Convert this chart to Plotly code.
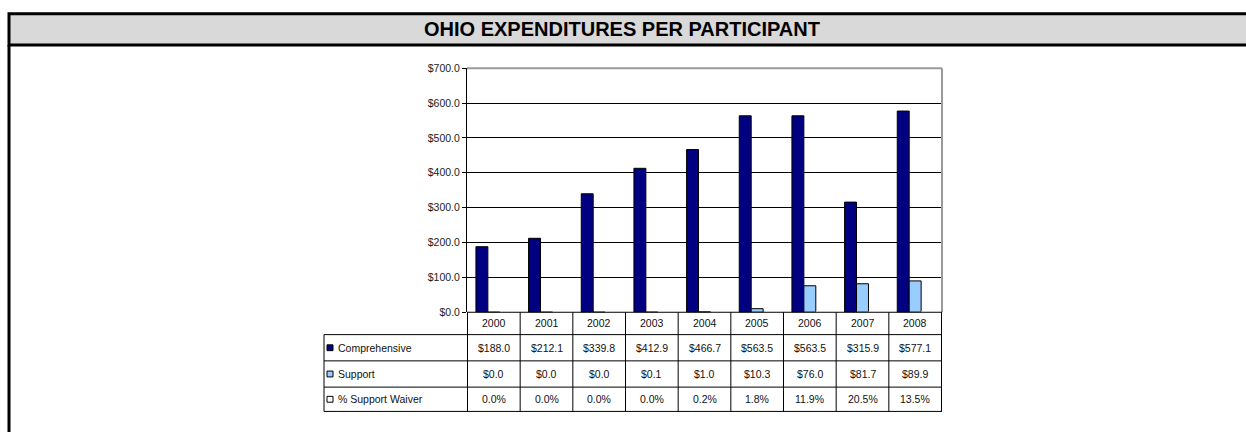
import plotly.graph_objects as go

# Fiscal years and per-participant spending (USD)
years = ["2000", "2001", "2002", "2003", "2004", "2005", "2006", "2007", "2008"]
comprehensive = [188.0, 212.1, 339.8, 412.9, 466.7, 563.5, 563.5, 315.9, 577.1]
support = [0.0, 0.0, 0.0, 0.1, 1.0, 10.3, 76.0, 81.7, 89.9]
pct_support_waiver = [0.0, 0.0, 0.0, 0.0, 0.2, 1.8, 11.9, 20.5, 13.5]

comp_labels = ["$188.0", "$212.1", "$339.8", "$412.9", "$466.7", "$563.5", "$563.5", "$315.9", "$577.1"]
support_labels = ["$0.0", "$0.0", "$0.0", "$0.1", "$1.0", "$10.3", "$76.0", "$81.7", "$89.9"]
pct_labels = ["0.0%", "0.0%", "0.0%", "0.0%", "0.2%", "1.8%", "11.9%", "20.5%", "13.5%"]

y_ticks = [0, 100, 200, 300, 400, 500, 600, 700]
y_tick_text = ["$0.0", "$100.0", "$200.0", "$300.0", "$400.0", "$500.0", "$600.0", "$700.0"]

W, H = 1246, 432
NAVY = "#000080"
LIGHT = "#99ccff"
FONT = "Liberation Sans, Arial, sans-serif"


def px(x):
    return x / W


def py(y):
    return 1 - y / H


fig = go.Figure()
fig.add_bar(x=years, y=comprehensive, name="Comprehensive",
            marker=dict(color=NAVY, line=dict(color="black", width=1)))
fig.add_bar(x=years, y=support, name="Support",
            marker=dict(color=LIGHT, line=dict(color="black", width=1)))
# waiver share is a ratio, so it sits at the floor of the dollar axis
fig.add_bar(x=years, y=[p / 100 for p in pct_support_waiver], name="% Support Waiver",
            marker=dict(color="white", line=dict(color="white", width=0)))

# plot-area box edges in pixels
LEFT, RIGHT, TOP, BASE = 467, 942, 64, 315
LEG_L = 324
ROW_Y = [315, 338, 365, 392, 417]

shapes = []
annotations = []

# page frame: title band and left rule
shapes.append(dict(type="rect", xref="paper", yref="paper", x0=px(9), x1=px(1252),
                   y0=py(40), y1=py(8), fillcolor="#d9d9d9", line=dict(color="black", width=3),
                   layer="below"))
shapes.append(dict(type="line", xref="paper", yref="paper", x0=px(9), x1=px(9),
                   y0=py(40), y1=py(440), line=dict(color="black", width=3)))
annotations.append(dict(text="<b>OHIO EXPENDITURES PER PARTICIPANT</b>", xref="paper", yref="paper",
                        x=px(622), y=py(24), showarrow=False, xanchor="center", yanchor="middle",
                        font=dict(family=FONT, size=20, color="black")))

# plot-area border on top and right
shapes.append(dict(type="line", xref="x domain", yref="y domain", x0=0, x1=1, y0=1, y1=1,
                   line=dict(color="#9a9a9a", width=2)))
shapes.append(dict(type="line", xref="x domain", yref="y domain", x0=1, x1=1, y0=0, y1=1,
                   line=dict(color="#9a9a9a", width=2)))

# data table under the chart
line_style = dict(color="black", width=1)
shapes.append(dict(type="line", xref="paper", yref="paper", x0=px(LEFT), x1=px(RIGHT),
                   y0=py(ROW_Y[0]), y1=py(ROW_Y[0]), line=line_style))
for ry in ROW_Y[1:]:
    shapes.append(dict(type="line", xref="paper", yref="paper", x0=px(LEG_L), x1=px(RIGHT),
                       y0=py(ry), y1=py(ry), line=line_style))
shapes.append(dict(type="line", xref="paper", yref="paper", x0=px(LEG_L), x1=px(LEG_L),
                   y0=py(ROW_Y[1]), y1=py(ROW_Y[-1]), line=line_style))
for i in range(len(years) + 1):
    shapes.append(dict(type="line", xref="x", yref="paper", x0=i - 0.5, x1=i - 0.5,
                       y0=py(ROW_Y[0]), y1=py(ROW_Y[-1]), line=line_style))

cell_font = dict(family=FONT, size=10.5, color="#111")
rows = [years, comp_labels, support_labels, pct_labels]
for r, labels in enumerate(rows):
    yc = (ROW_Y[r] + ROW_Y[r + 1]) / 2
    for i, txt in enumerate(labels):
        annotations.append(dict(text=txt, xref="x", yref="paper", x=i, y=py(yc),
                                showarrow=False, xanchor="center", yanchor="middle", font=cell_font))

legend_rows = [("Comprehensive", NAVY), ("Support", LIGHT), ("% Support Waiver", "white")]
for r, (name, col) in enumerate(legend_rows):
    yc = (ROW_Y[r + 1] + ROW_Y[r + 2]) / 2
    shapes.append(dict(type="rect", xref="paper", yref="paper", x0=px(327), x1=px(333),
                       y0=py(yc + 3), y1=py(yc - 3), fillcolor=col,
                       line=dict(color="black", width=1)))
    annotations.append(dict(text=name, xref="paper", yref="paper", x=px(336), y=py(yc),
                            showarrow=False, xanchor="left", yanchor="middle", font=cell_font))

fig.update_layout(
    width=W, height=H,
    margin=dict(l=0, r=0, t=0, b=0),
    paper_bgcolor="white", plot_bgcolor="white",
    barmode="group", bargap=0.32, bargroupgap=0,
    showlegend=False,
    xaxis=dict(domain=[px(LEFT), px(RIGHT)], showticklabels=False, ticks="",
               showline=False, showgrid=False, zeroline=False, fixedrange=True),
    yaxis=dict(domain=[py(BASE), py(TOP)], range=[0, 700], tickvals=y_ticks, ticktext=y_tick_text,
               showgrid=True, gridcolor="black", gridwidth=1, zeroline=False,
               showline=True, linecolor="black", linewidth=1,
               ticks="outside", ticklen=4, tickcolor="black",
               tickfont=dict(family=FONT, size=10.5, color="#222")),
    shapes=shapes,
    annotations=annotations,
)

fig.write_html("out.html")
